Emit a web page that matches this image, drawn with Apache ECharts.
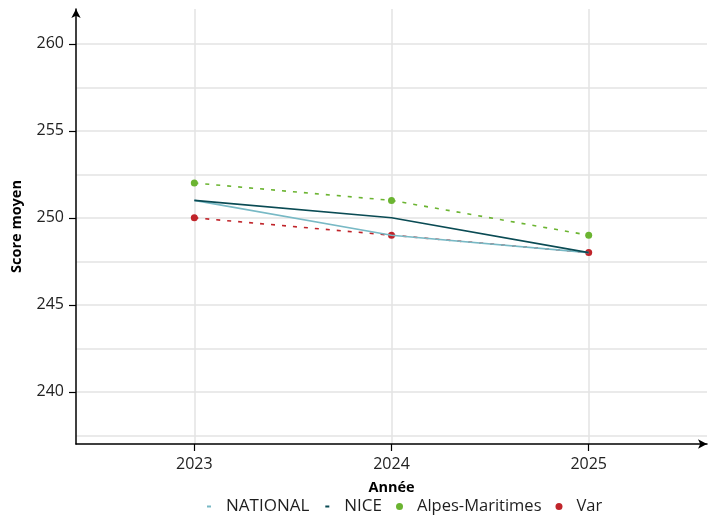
<!DOCTYPE html>
<html>
<head>
<meta charset="utf-8">
<script src="https://cdn.jsdelivr.net/npm/echarts@6/dist/echarts.min.js"></script>
<style>html,body{margin:0;padding:0;background:#fff}#c{width:718px;height:518px}</style>
</head>
<body>
<div id="c"></div>
<script>
var years = [2023, 2024, 2025];
var national = [251, 249, 248];
var nice = [251, 250, 248];
var alpesMaritimes = [252, 251, 249];
var varDept = [250, 249, 248];
var yTicks = [240, 245, 250, 255, 260];
var yMinorGrid = [237.5, 242.5, 247.5, 252.5, 257.5];

var FONT = '"Open Sans", sans-serif';
function pairs(xs, ys) { return xs.map(function (x, i) { return [x, ys[i]]; }); }

var gridLines = [];
yTicks.concat(yMinorGrid).forEach(function (v) { gridLines.push({ yAxis: v }); });
years.forEach(function (v) { gridLines.push({ xAxis: v }); });

var chart = echarts.init(document.getElementById('c'));
chart.setOption({
  animation: false,
  textStyle: { fontFamily: FONT },
  grid: { left: 76, right: 11, top: 9, bottom: 74, containLabel: false, outerBoundsMode: 'none' },
  xAxis: {
    type: 'value', min: 2022.4, max: 2025.6,
    name: 'Année', nameLocation: 'middle', nameGap: 36,
    nameTextStyle: { fontFamily: FONT, fontWeight: 'bold', fontSize: 14.5, color: '#000' },
    axisLine: { show: true, onZero: false, lineStyle: { color: '#000', width: 1.5 }, symbol: ['none', 'arrow'], symbolSize: [7, 9] },
    axisTick: { show: true, length: 7, customValues: years, lineStyle: { color: '#000', width: 1.2 } },
    axisLabel: { customValues: years, margin: 12, fontSize: 16, color: '#222', fontFamily: FONT, formatter: function (v) { return String(v); } },
    splitLine: { show: false }
  },
  yAxis: {
    type: 'value', min: 237, max: 262,
    name: 'Score moyen', nameLocation: 'middle', nameGap: 52, nameRotate: 90,
    nameTextStyle: { fontFamily: FONT, fontWeight: 'bold', fontSize: 14.5, color: '#000' },
    axisLine: { show: true, onZero: false, lineStyle: { color: '#000', width: 1.5 }, symbol: ['none', 'arrow'], symbolSize: [7, 9] },
    axisTick: { show: true, length: 7, customValues: yTicks, lineStyle: { color: '#000', width: 1.2 } },
    axisLabel: { customValues: yTicks, margin: 12, fontSize: 16, color: '#222', fontFamily: FONT },
    splitLine: { show: false }
  },
  legend: [{
    left: 207, top: 498, padding: 0, itemWidth: 4, itemHeight: 2, itemGap: 16, icon: 'rect',
    data: ['NATIONAL', 'NICE'],
    textStyle: { fontFamily: FONT, fontSize: 17, color: '#1e1e1e', padding: [0, 0, 0, 10] }
  }, {
    left: 396, top: 498, padding: 0, itemWidth: 7, itemHeight: 7, itemGap: 14, icon: 'circle',
    data: ['Alpes-Maritimes', 'Var'],
    textStyle: { fontFamily: FONT, fontSize: 16.5, color: '#1e1e1e', padding: [0, 0, 0, 9] }
  }],
  series: [{
    name: 'grid', type: 'line', data: [], silent: true, z: 0,
    markLine: {
      silent: true, z: 0, symbol: ['none', 'none'], label: { show: false },
      lineStyle: { color: '#e3e3e3', width: 1.5, type: 'solid' },
      emphasis: { disabled: true },
      data: gridLines
    }
  }, {
    name: 'NATIONAL', type: 'line', data: pairs(years, national), showSymbol: false, symbol: 'none',
    color: '#78b9c5', lineStyle: { color: '#78b9c5', width: 1.6 }, z: 3
  }, {
    name: 'NICE', type: 'line', data: pairs(years, nice), showSymbol: false, symbol: 'none',
    color: '#0a4b54', lineStyle: { color: '#0a4b54', width: 1.6 }, z: 4
  }, {
    name: 'Alpes-Maritimes', type: 'line', data: pairs(years, alpesMaritimes), symbol: 'circle', symbolSize: 7,
    color: '#6bb431', itemStyle: { color: '#6bb431', borderWidth: 0 }, lineStyle: { color: '#6bb431', width: 1.6, type: [4, 7] }, z: 2
  }, {
    name: 'Var', type: 'line', data: pairs(years, varDept), symbol: 'circle', symbolSize: 7,
    color: '#c0242a', itemStyle: { color: '#c0242a', borderWidth: 0 }, lineStyle: { color: '#c0242a', width: 1.6, type: [4, 7] }, z: 2
  }]
});
</script>
</body>
</html>
